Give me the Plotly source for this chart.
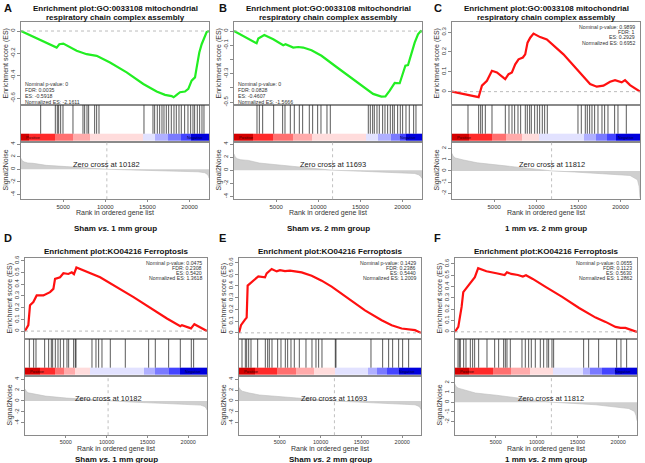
import plotly.graph_objects as go

N_GENES = 22300
W, H = 645, 463

# ---------------- DATA ----------------
A_title = "Enrichment plot:GO:0033108 mitochondrial<br>respiratory chain complex assembly"
A_group = "Sham <i>vs.</i> 1 mm group"
A_stats = ["Nominal p-value: 0", "FDR: 0.0035", "ES: -0.5918", "Normalized ES: -2.1611"]
A_zero_cross = 10182
A_es_rank = [1, 4230, 4546, 5020, 6600, 7790, 8975, 10557, 12534, 14510, 16090, 17080, 17870, 18100,
             18465, 18860, 19450, 19850, 20240, 20640, 20840, 21150, 21430, 21700, 22020, 22300]
A_es = [0, -0.148, -0.118, -0.112, -0.177, -0.207, -0.222, -0.281, -0.369, -0.473, -0.541, -0.570, -0.582, -0.5918,
        -0.570, -0.547, -0.541, -0.517, -0.443, -0.414, -0.325, -0.192, -0.118, -0.074, -0.009, 0]
A_hits = [2333, 4072, 4309, 4467, 4704, 4981, 6167, 7353, 7551, 7828, 8025, 8737, 8974, 9251, 14588, 15655,
          15853, 16169, 16446, 16723, 16960, 17237, 17514, 17830, 18146, 18423, 18739, 19016, 19411, 19806,
          20123, 20399, 20597, 20913, 21190, 21467, 21704]
A_sig_rank = [1, 150, 400, 800, 1460, 3000, 5400, 7500, 10182, 13000, 16000, 19650, 21000, 21800, 22100, 22250, 22300]
A_sig = [1.73, 1.35, 1.15, 1.0, 0.94, 0.62, 0.42, 0.2, 0, -0.1, -0.18, -0.26, -0.4, -0.55, -0.8, -1.1, -1.4]
A_bands = [1, 1000, 3993, 6167, 8144, 14469, 15853, 17435, 19016, 20202, 22300]

B_title = "Enrichment plot:GO:0033108 mitochondrial<br>respiratory chain complex assembly"
B_group = "Sham <i>vs.</i> 2 mm group"
B_stats = ["Nominal p-value: 0", "FDR: 0.0828", "ES: -0.4607", "Normalized ES: -1.5666"]
B_zero_cross = 11693
B_es_rank = [1, 2684, 2881, 3592, 4658, 5842, 6118, 7026, 7618, 8210, 9197, 10381, 11960, 13540, 15118, 16500,
             17486, 17960, 18470, 19064, 19656, 20050, 20327, 20643, 21038, 21432, 21827, 22143, 22300]
B_es = [0, -0.086, -0.053, -0.028, -0.058, -0.100, -0.093, -0.116, -0.112, -0.116, -0.135, -0.174, -0.244, -0.314,
        -0.384, -0.442, -0.4607, -0.460, -0.419, -0.365, -0.367, -0.291, -0.244, -0.240, -0.151, -0.081, -0.023, 0.0, -0.005]
B_hits = [2728, 3005, 3400, 4704, 5772, 6049, 6681, 7155, 7749, 8144, 8934, 9330, 9923, 10318, 11030, 11425,
          15932, 16169, 16446, 16644, 16960, 17237, 17632, 17909, 18225, 18541, 18818, 19016, 19411, 19727,
          20004, 20399, 20794, 21309, 21585]
B_sig_rank = [1, 150, 400, 800, 1700, 3000, 5650, 9600, 11693, 15000, 18000, 21430, 21900, 22150, 22300]
B_sig = [2.5, 2.0, 1.75, 1.6, 1.5, 1.1, 0.76, 0.25, 0, -0.15, -0.28, -0.5, -0.7, -0.95, -1.26]
B_bands = [1, 2289, 4657, 7026, 9197, 15709, 17090, 18669, 19700, 20400, 22300]

C_title = "Enrichment plot:GO:0033108 mitochondrial<br>respiratory chain complex assembly"
C_group = "1 mm <i>vs.</i> 2 mm group"
C_stats = ["Nominal p-value: 0.9899", "FDR: 1", "ES: 0.2929", "Normalized ES: 0.6952"]
C_zero_cross = 11812
C_es_rank = [1, 3158, 3552, 4144, 4736, 5329, 6315, 6710, 7105, 7500, 7894, 8407, 8684, 8960, 9276, 9670, 10460,
             11250, 13222, 15196, 16380, 17170, 17960, 18750, 19340, 20130, 20525, 21117, 22300]
C_es = [0, -0.028, 0.03, 0.055, 0.105, 0.097, 0.063, 0.088, 0.097, 0.138, 0.163, 0.172, 0.188, 0.247, 0.272, 0.2929,
        0.275, 0.263, 0.188, 0.097, 0.038, 0.025, 0.03, 0.05, 0.058, 0.047, 0.058, 0.033, 0]
C_hits = [1898, 3163, 3400, 3598, 3953, 4744, 6325, 6760, 7116, 7432, 7828, 8144, 8697, 8934, 9211, 9409, 9804,
          10120, 10397, 10713, 10990, 11306, 14944, 15339, 15813, 16050, 16327, 16604, 16920, 17316, 17790,
          18106, 18502, 19292, 19688, 20676]
C_sig_rank = [1, 150, 400, 800, 1380, 3000, 5330, 9275, 11812, 14500, 17170, 21117, 22000, 22200, 22300]
C_sig = [1.56, 1.3, 1.15, 1.05, 0.97, 0.72, 0.53, 0.24, 0, -0.1, -0.2, -0.41, -0.8, -1.4, -2.4]
C_bands = [1, 1974, 4736, 6380, 8250, 10300, 15650, 17050, 18420, 19400, 22300]

D_title = "Enrichment plot:KO04216 Ferroptosis"
D_group = "Sham <i>vs.</i> 1 mm group"
D_stats = ["Nominal p-value: 0.0475", "FDR: 0.2308", "ES: 0.5420", "Normalized ES: 1.3618"]
D_zero_cross = 10182
D_es_rank = [1, 409, 614, 1023, 1432, 2250, 3069, 3478, 3683, 4297, 4706, 5320, 5729, 6000, 6300, 9207, 13300,
             17390, 19030, 19230, 20340, 20750, 22300]
D_es = [0, 0.051, 0.22, 0.248, 0.304, 0.304, 0.332, 0.36, 0.445, 0.459, 0.493, 0.487, 0.501, 0.485, 0.542, 0.459,
        0.29, 0.107, 0.042, 0.051, 0.023, 0.059, 0]
D_hits = [531, 1062, 1348, 2409, 2899, 3226, 3389, 3716, 4043, 4328, 4737, 5145, 5349, 5962, 6166, 6248, 8208,
          8698, 9024, 9433, 10453, 12291, 15150, 15966, 17600, 19029, 20376, 20662]
D_sig_rank = [1, 150, 400, 1020, 2500, 5100, 9200, 10182, 13000, 17400, 21500, 22000, 22200, 22300]
D_sig = [2.2, 1.8, 1.5, 1.3, 0.9, 0.53, 0.12, 0, -0.2, -0.47, -0.76, -1.0, -1.3, -1.65]
D_bands = [1, 1878, 3716, 4737, 6166, 8004, 14537, 15966, 17600, 19029, 22300]

E_title = "Enrichment plot:KO04216 Ferroptosis"
E_group = "Sham <i>vs.</i> 2 mm group"
E_stats = ["Nominal p-value: 0.1429", "FDR: 0.2386", "ES: 0.5440", "Normalized ES: 1.2009"]
E_zero_cross = 11693
E_es_rank = [1, 245, 735, 939, 1062, 1552, 2165, 2369, 3186, 3390, 4002, 4615, 5023, 5636, 6249, 7065, 7678, 8903,
             10128, 11353, 13396, 15438, 17480, 18705, 19930, 21155, 21563, 22300]
E_es = [0, 0.065, 0.113, 0.13, 0.403, 0.431, 0.473, 0.482, 0.473, 0.507, 0.544, 0.524, 0.535, 0.527, 0.53, 0.521,
        0.515, 0.487, 0.445, 0.394, 0.29, 0.192, 0.107, 0.065, 0.037, 0.028, 0.023, 0]
E_hits = [368, 776, 939, 1184, 1470, 2287, 3226, 3512, 3716, 4043, 4737, 5145, 5676, 5962, 6370, 6778, 7391, 8208,
          8943, 9433, 9759, 10168, 11801, 11883, 16170, 17600, 18335, 18825, 19560, 20050, 20784]
E_sig_rank = [1, 150, 400, 1140, 2500, 5230, 9300, 11693, 14500, 17480, 21560, 22000, 22200, 22300]
E_sig = [2.5, 2.1, 1.8, 1.5, 1.1, 0.76, 0.35, 0, -0.2, -0.4, -0.7, -0.95, -1.25, -1.6]
E_bands = [1, 1960, 4650, 7000, 9250, 11800, 15800, 16900, 18150, 19580, 22300]

F_title = "Enrichment plot:KO04216 Ferroptosis"
F_group = "1 mm <i>vs.</i> 2 mm group"
F_stats = ["Nominal p-value: 0.0655", "FDR: 0.1123", "ES: 0.5630", "Normalized ES: 1.2862"]
F_zero_cross = 11812
F_es_rank = [1, 405, 608, 811, 1014, 1622, 2433, 2838, 3852, 5069, 6082, 6366, 6893, 7704, 8312, 8700, 9529, 11151,
             13179, 15206, 17234, 18450, 19667, 20275, 20883, 22300]
F_es = [0, 0.044, 0.132, 0.22, 0.351, 0.41, 0.483, 0.563, 0.536, 0.518, 0.503, 0.527, 0.512, 0.503, 0.489, 0.5,
        0.468, 0.395, 0.307, 0.211, 0.126, 0.088, 0.044, 0.035, 0.035, 0]
F_hits = [368, 531, 653, 1062, 1348, 1878, 2164, 2409, 2899, 3920, 4860, 5349, 5962, 6166, 6370, 6778, 8208, 8616,
          9024, 9351, 9841, 10453, 10862, 11270, 11474, 11883, 12087, 15762, 16375, 17600, 19804, 20335, 21029]
F_sig_rank = [1, 150, 400, 1014, 2500, 5070, 9120, 11812, 14500, 17230, 21290, 22000, 22200, 22300]
F_sig = [1.85, 1.6, 1.45, 1.3, 0.95, 0.72, 0.33, 0, -0.12, -0.26, -0.65, -0.95, -1.4, -1.9]
F_bands = [1, 1700, 4600, 6900, 9200, 12000, 15700, 16600, 18000, 19550, 22300]

X_TICKS = [5000, 10000, 15000, 20000]

# ---------------- STYLE / LAYOUT ----------------
FONT = "Liberation Sans, Arial, sans-serif"
BAND_COLORS = ["#d40000", "#ff2a2a", "#ff7070", "#ffabab", "#ffdcdc",
               "#e2e2ff", "#b0b0ff", "#7a7aff", "#4444ff", "#0000dd"]
AX_COLOR = "#8a8a8a"


def fx(px):
    return px / W


def fy(py):
    return 1 - py / H


panels = [
    dict(letter="A", title=A_title, group=A_group, stats=A_stats, zc=A_zero_cross, es_r=A_es_rank, es=A_es,
         hits=A_hits, sr=A_sig_rank, sig=A_sig, bands=A_bands, color="#22ee22", x=(21, 209), row=0,
         es_range=[-0.662, 0.082], es_ticks=[0, -0.2, -0.4, -0.6], es_lab=["0", "-0.2", "-0.4", "-0.6"],
         sig_range=[-4.75, 4.35], sig_ticks=[4, 2, 0, -2, -4], stats_pos="bl", offx=0),
    dict(letter="B", title=B_title, group=B_group, stats=B_stats, zc=B_zero_cross, es_r=B_es_rank, es=B_es,
         hits=B_hits, sr=B_sig_rank, sig=B_sig, bands=B_bands, color="#22ee22", x=(234, 422), row=0,
         es_range=[-0.521, 0.065], es_ticks=[0, -0.1, -0.2, -0.3, -0.4, -0.5],
         es_lab=["0", "-0.1", "", "-0.3", "", "-0.5"],
         sig_range=[-4.45, 4.35], sig_ticks=[4, 2, 0, -2, -4], stats_pos="bl", offx=215),
    dict(letter="C", title=C_title, group=C_group, stats=C_stats, zc=C_zero_cross, es_r=C_es_rank, es=C_es,
         hits=C_hits, sr=C_sig_rank, sig=C_sig, bands=C_bands, color="#ff1010", x=(452, 640), row=0,
         es_range=[-0.068, 0.352], es_ticks=[0, 0.1, 0.2, 0.3], es_lab=["0", "0.1", "0.2", "0.3"],
         sig_range=[-2.54, 2.6], sig_ticks=[2, 1, 0, -1, -2], stats_pos="tr", offx=430),
    dict(letter="D", title=D_title, group=D_group, stats=D_stats, zc=D_zero_cross, es_r=D_es_rank, es=D_es,
         hits=D_hits, sr=D_sig_rank, sig=D_sig, bands=D_bands, color="#ff1010", x=(25, 207), row=1,
         es_range=[-0.068, 0.625], es_ticks=[0, 0.1, 0.2, 0.3, 0.4, 0.5, 0.6],
         es_lab=["0", "0.1", "0.2", "0.3", "0.4", "0.5", "0.6"],
         sig_range=[-6.3, 4.64], sig_ticks=[4, 2, 0, -2, -4], stats_pos="tr", offx=0),
    dict(letter="E", title=E_title, group=E_group, stats=E_stats, zc=E_zero_cross, es_r=E_es_rank, es=E_es,
         hits=E_hits, sr=E_sig_rank, sig=E_sig, bands=E_bands, color="#ff1010", x=(239, 421), row=1,
         es_range=[-0.053, 0.64], es_ticks=[0, 0.1, 0.2, 0.3, 0.4, 0.5, 0.6],
         es_lab=["0", "0.1", "0.2", "0.3", "0.4", "0.5", "0.6"],
         sig_range=[-6.3, 4.64], sig_ticks=[4, 2, 0, -2, -4], stats_pos="tr", offx=215),
    dict(letter="F", title=F_title, group=F_group, stats=F_stats, zc=F_zero_cross, es_r=F_es_rank, es=F_es,
         hits=F_hits, sr=F_sig_rank, sig=F_sig, bands=F_bands, color="#ff1010", x=(455, 637), row=1,
         es_range=[-0.064, 0.655], es_ticks=[0, 0.1, 0.2, 0.3, 0.4, 0.5, 0.6],
         es_lab=["0", "0.1", "0.2", "0.3", "0.4", "0.5", "0.6"],
         sig_range=[-3.4, 2.73], sig_ticks=[2, 1, 0, -1, -2], stats_pos="tr", offx=430),
]

ROWS = [
    dict(es=(19, 103), hit=(103, 140), sig=(140, 198), title_y=[6, 15], xtitle=212, group=227, letter=5,
         zc_text=163, tick_font=6),
    dict(es=(257, 339), hit=(339, 376), sig=(376, 436), title_y=[251], xtitle=450, group=460, letter=237,
         zc_text=399, tick_font=5.5),
]

BAR_TOP = 0.22
BAR_BOT = 0.03

n_b = len(BAND_COLORS)
colorscale = []
for k, c in enumerate(BAND_COLORS):
    colorscale.append([k / n_b, c])
    colorscale.append([(k + 1) / n_b, c])

fig = go.Figure()
layout = dict(width=W, height=H, margin=dict(l=0, r=0, t=0, b=0), paper_bgcolor="white",
              plot_bgcolor="white", showlegend=False, font=dict(family=FONT, color="#222"))
annotations = []
shapes = []


def axname(kind, n):
    return kind + ("" if n == 1 else str(n))


for i, p in enumerate(panels):
    r = ROWS[p["row"]]
    n_es, n_hit, n_sig = 3 * i + 1, 3 * i + 2, 3 * i + 3
    xd = [fx(p["x"][0]), fx(p["x"][1])]
    common_x = dict(domain=xd, range=[1, N_GENES], showgrid=False, zeroline=False, showline=True,
                    linecolor=AX_COLOR, linewidth=1, mirror=True, fixedrange=True)
    layout[axname("xaxis", n_es)] = dict(common_x, anchor=axname("y", n_es), showticklabels=False, ticks="")
    layout[axname("yaxis", n_es)] = dict(domain=[fy(r["es"][1]), fy(r["es"][0])], range=p["es_range"],
                                         anchor=axname("x", n_es), showgrid=False, zeroline=False,
                                         showline=True, linecolor=AX_COLOR, mirror=True, ticks="outside",
                                         ticklen=3, tickcolor=AX_COLOR, tickvals=p["es_ticks"],
                                         ticktext=p["es_lab"], tickangle=-90,
                                         tickfont=dict(size=6, color="#333"))
    layout[axname("xaxis", n_hit)] = dict(common_x, anchor=axname("y", n_hit), showticklabels=False, ticks="")
    layout[axname("yaxis", n_hit)] = dict(domain=[fy(r["hit"][1]), fy(r["hit"][0])], range=[0, 1],
                                          anchor=axname("x", n_hit), showgrid=False, zeroline=False,
                                          showline=True, linecolor=AX_COLOR, mirror=True,
                                          showticklabels=False, ticks="")
    layout[axname("xaxis", n_sig)] = dict(common_x, anchor=axname("y", n_sig), ticks="outside", ticklen=1.5,
                                          tickcolor=AX_COLOR, tickvals=X_TICKS,
                                          ticktext=[str(v) for v in X_TICKS],
                                          tickfont=dict(size=r["tick_font"], color="#333"))
    layout[axname("yaxis", n_sig)] = dict(domain=[fy(r["sig"][1]), fy(r["sig"][0])], range=p["sig_range"],
                                          anchor=axname("x", n_sig), showgrid=False, zeroline=False,
                                          showline=True, linecolor=AX_COLOR, mirror=True, ticks="outside",
                                          ticklen=3, tickcolor=AX_COLOR, tickvals=p["sig_ticks"],
                                          ticktext=[str(v) for v in p["sig_ticks"]], tickangle=-90,
                                          tickfont=dict(size=6, color="#333"))

    xa_es, ya_es = axname("x", n_es), axname("y", n_es)
    xa_h, ya_h = axname("x", n_hit), axname("y", n_hit)
    xa_s, ya_s = axname("x", n_sig), axname("y", n_sig)

    shapes.append(dict(type="line", xref=xa_es + " domain", x0=0, x1=1, yref=ya_es, y0=0, y1=0,
                       line=dict(color="#aaaaaa", width=0.8, dash="dot")))
    fig.add_trace(go.Scatter(x=p["es_r"], y=p["es"], mode="lines", xaxis=xa_es, yaxis=ya_es,
                             line=dict(color=p["color"], width=2.2), hoverinfo="skip"))
    hx, hy = [], []
    for h in p["hits"]:
        hx += [h, h, None]
        hy += [BAR_TOP, 1, None]
    fig.add_trace(go.Scatter(x=hx, y=hy, mode="lines", xaxis=xa_h, yaxis=ya_h,
                             line=dict(color="rgba(20,20,20,0.7)", width=1), hoverinfo="skip"))
    fig.add_trace(go.Heatmap(x=p["bands"], y=[BAR_BOT, BAR_TOP], z=[list(range(n_b))], xaxis=xa_h, yaxis=ya_h,
                             colorscale=colorscale, zmin=0, zmax=n_b - 1 + 1e-9, showscale=False,
                             hoverinfo="skip"))
    annotations.append(dict(text="Positive", x=p["bands"][0] + 400, y=(BAR_TOP + BAR_BOT) / 2, xref=xa_h,
                            yref=ya_h, xanchor="left", yanchor="middle", showarrow=False,
                            font=dict(size=4, color="#400000")))
    annotations.append(dict(text="Negative", x=p["bands"][-1] - 400, y=(BAR_TOP + BAR_BOT) / 2, xref=xa_h,
                            yref=ya_h, xanchor="right", yanchor="middle", showarrow=False,
                            font=dict(size=4, color="#000040")))
    fig.add_trace(go.Scatter(x=p["sr"], y=p["sig"], mode="lines", fill="tozeroy", xaxis=xa_s, yaxis=ya_s,
                             fillcolor="#cfcfcf", line=dict(color="#bdbdbd", width=0.6), hoverinfo="skip"))
    shapes.append(dict(type="line", xref=xa_s, x0=p["zc"], x1=p["zc"], yref=ya_s + " domain", y0=0, y1=1,
                       line=dict(color="#b0b0b0", width=0.8, dash="dot")))
    annotations.append(dict(text="Zero cross at %d" % p["zc"], x=p["zc"], y=fy(r["zc_text"]), xref=xa_s,
                            yref="paper", xanchor="center", yanchor="middle", showarrow=False,
                            font=dict(size=7.5, color="#222")))

    cx = (p["x"][0] + p["x"][1]) / 2
    tlines = p["title"].split("<br>")
    for ln, ty in zip(tlines, r["title_y"]):
        annotations.append(dict(text="<b>%s</b>" % ln, x=fx(cx), y=fy(ty), xref="paper", yref="paper",
                                xanchor="center", yanchor="middle", showarrow=False,
                                font=dict(size=8, color="#111")))
    annotations.append(dict(text="<b>%s</b>" % p["letter"], x=fx(p["offx"] + 2), y=fy(r["letter"]),
                            xref="paper", yref="paper", xanchor="left", yanchor="middle", showarrow=False,
                            font=dict(size=11, color="#111")))
    es_mid = (r["es"][0] + r["es"][1]) / 2
    sig_mid = (r["sig"][0] + r["sig"][1]) / 2
    ytx = p["x"][0] - 15
    annotations.append(dict(text="Enrichment score (ES)", x=fx(ytx), y=fy(es_mid), xref="paper", yref="paper",
                            textangle=-90, xanchor="center", yanchor="middle", showarrow=False,
                            font=dict(size=7, color="#333")))
    annotations.append(dict(text="Signal2Noise", x=fx(ytx), y=fy(sig_mid), xref="paper", yref="paper",
                            textangle=-90, xanchor="center", yanchor="middle", showarrow=False,
                            font=dict(size=7, color="#333")))
    annotations.append(dict(text="Rank in ordered gene list", x=fx(cx), y=fy(r["xtitle"]), xref="paper",
                            yref="paper", xanchor="center", yanchor="middle", showarrow=False,
                            font=dict(size=7, color="#333")))
    annotations.append(dict(text="<b>%s</b>" % p["group"], x=fx(cx), y=fy(r["group"]), xref="paper",
                            yref="paper", xanchor="center", yanchor="middle", showarrow=False,
                            font=dict(size=8, color="#111")))
    if p["stats_pos"] == "bl":
        base_x, anchor = p["x"][0] + 2, "left"
        ys = [r["es"][1] - 3 - 6 * (3 - k) for k in range(4)]
    else:
        base_x, anchor = p["x"][1] - 3, "right"
        ys = [r["es"][0] + 5 + 5.3 * k for k in range(4)]
    for line, yy in zip(p["stats"], ys):
        annotations.append(dict(text=line, x=fx(base_x), y=fy(yy), xref="paper", yref="paper",
                                xanchor=anchor, yanchor="middle", showarrow=False,
                                font=dict(size=5.2, color="#333")))

layout["annotations"] = annotations
layout["shapes"] = shapes
fig.update_layout(**layout)
fig.write_html("out.html", config={"displayModeBar": False},
               post_script="document.body.style.margin='0';document.body.style.overflow='hidden';")
